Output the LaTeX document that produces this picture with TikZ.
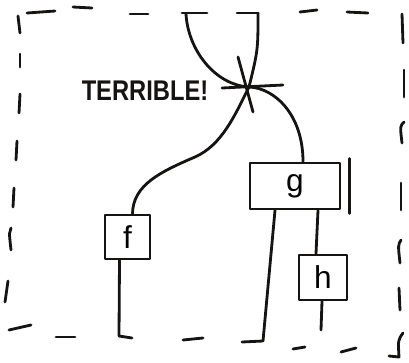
\documentclass[tikz,border=0pt]{standalone}
\usepackage{fontspec}
\setmainfont{Liberation Sans}
\usetikzlibrary{calc}
\definecolor{ink}{HTML}{161412}
\begin{document}
\begin{tikzpicture}[x=0.02cm,y=-0.02cm,
  line width=1.6pt, line cap=round, line join=round,
  wire/.style={draw=ink, line width=1.6pt},
  edge/.style={draw=ink, line width=1.6pt},
  box/.style={draw=ink, line width=1.6pt, rectangle, inner sep=0pt, font=\fontsize{18}{20}\selectfont},
  label/.style={text=ink, inner sep=0pt, font=\bfseries\fontsize{13.5}{15}\selectfont}]
\useasboundingbox (0,0) rectangle (409,362);

% dashed frame (hand drawn dashes)
\draw[edge] (27,13) -- (55,11);
\draw[edge] (73,7) -- (92,8);
\draw[edge] (130,14) -- (148,14);
\draw[edge] (300,12) -- (317,10);
\draw[edge] (347,12) -- (368,13);
% right side
\draw[edge] (402,14) -- (403,43);
\draw[edge] (404,70) -- (404,97);
\draw[edge] (404,122) .. controls (400,126) .. (402,143);
\draw[edge] (401,183) -- (401,210);
\draw[edge] (401,240) .. controls (398,245) .. (400,263);
\draw[edge] (399,288) -- (400,310);
\draw[edge] (403,333) .. controls (398,340) .. (399,357) -- (389,356);
% left side
\draw[edge] (18,16) -- (20,33);
\draw[edge] (20,54) -- (20,67);
\draw[edge] (20,94) -- (19,113);
\draw[edge] (17,141) -- (16,160);
\draw[edge] (14,188) -- (13,207);
\draw[edge] (11,228) .. controls (9,232) .. (11,250);
\draw[edge] (8,281) -- (5,302);
% bottom
\draw[edge] (9,330) -- (31,325);
\draw[edge] (56,337) -- (75,337);
\draw[edge] (183,340) -- (203,338);
\draw[edge] (293,349) -- (305,347);
\draw[edge] (341,352) -- (356,348);

% boxes
\node[box, minimum width=0.9cm, minimum height=0.88cm] (f) at (127.5,237) {f};
\node[box, minimum width=1.8cm, minimum height=0.92cm] (g) at (295,186) {g};
\node[box, minimum width=0.96cm, minimum height=0.9cm] (h) at (323,277.5) {h};
\draw[edge] ($(g.north east)+(8,-3)$) -- ($(g.south east)+(8,3)$);

% crossing
\coordinate (X) at (249,87);
\coordinate (t1) at (186,14);
\coordinate (t2) at (258,13);
\coordinate (fb) at (119,336);
\coordinate (gb) at (263,341);
\coordinate (hb) at (321,330);

\draw[edge] (222,88) -- (283,85);
\draw[edge] (238,57) -- (253,112);

% top wires with their ticks
\draw[wire] (207,13) -- (182,13);
\draw[wire] (237,13) -- (t2);
\draw[wire] (t1) .. controls (188,50) and (215,85) .. (X);
\draw[wire] (t2) .. controls (258,50) .. (X);

% lower wires
\draw[wire] (X) .. controls (235,115) and (222,145) .. (195,157)
  .. controls (160,172) and (133,185) .. ($(f.north)+(5,0)$);
\draw[wire] (X) .. controls (275,88) and (303,115) .. ($(g.north)+(8,0)$);

\draw[wire] ($(f.south)+(-8,0)$) -- (fb) -- (132,338);
\draw[wire] ($(g.south)+(-20,0)$) -- (gb) -- (242,342);
\draw[wire] ($(g.south)+(23,0)$) -- ($(h.north)+(-7,0)$);
\draw[wire] ($(h.south)+(-1,0)$) -- (hb);

\node[label] (terrible) at (145,91) {\scalebox{1}[1.2]{TERRIBLE!}};
\end{tikzpicture}
\end{document}
